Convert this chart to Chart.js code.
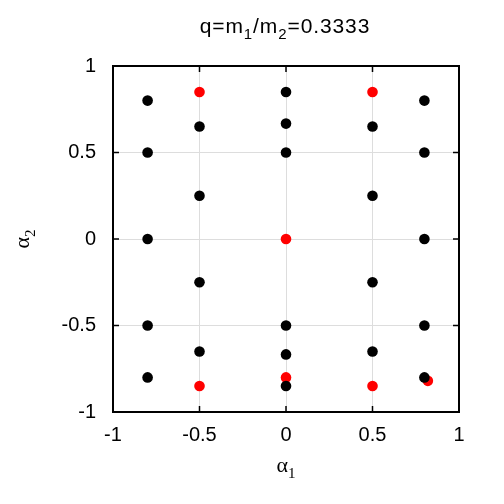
<!DOCTYPE html>
<html><head><meta charset="utf-8">
<script src="https://cdn.jsdelivr.net/npm/chart.js@4/dist/chart.umd.min.js"></script>
<style>html,body{margin:0;padding:0;background:#fff}#c{display:block}</style>
</head><body>
<canvas id="c" width="504" height="504"></canvas>
<script>
const blackX = [-0.8,-0.8,-0.8,-0.8,-0.8, -0.5,-0.5,-0.5,-0.5, 0,0,0,0,0,0, 0.5,0.5,0.5,0.5, 0.8,0.8,0.8,0.8,0.8];
const blackY = [0.8,0.5,0,-0.5,-0.8, 0.65,0.25,-0.25,-0.65, 0.85,0.667,0.5,-0.5,-0.667,-0.85, 0.65,0.25,-0.25,-0.65, 0.8,0.5,0,-0.5,-0.8];
const redX = [-0.5,0.5,0,0,-0.5,0.5,0.82];
const redY = [0.85,0.85,0,-0.8,-0.85,-0.85,-0.82];
const tickVals = [-1,-0.5,0,0.5,1];
const titleParts = [["q=m",0],["1",1],["/m",0],["2",1],["=0.3333",0]];
const xLabelParts = [["α",0],["1",1]];
const yLabelParts = [["α",0],["2",1]];

const FONT = "'Liberation Sans', Arial, sans-serif";
const SERIF = "'Liberation Serif', serif";
function fmt(v){ return String(v); }

function drawParts(ctx, parts, x, y, size, fam, subFam, spacing){
  const sub = Math.round(size*0.7);
  ctx.letterSpacing = (spacing||0)+'px';
  let w = 0;
  parts.forEach(p=>{ ctx.font = (p[1]?sub:size)+"px "+(p[1]?subFam:fam); w += ctx.measureText(p[0]).width; });
  let cx = x - w/2;
  ctx.textAlign = 'left'; ctx.textBaseline = 'alphabetic';
  parts.forEach(p=>{
    ctx.font = (p[1]?sub:size)+"px "+(p[1]?subFam:fam);
    ctx.fillText(p[0], cx, y + (p[1]? size*0.28 : 0));
    cx += ctx.measureText(p[0]).width;
  });
  ctx.letterSpacing = '0px';
}

const deco = {
  id:'deco',
  afterDraw(chart){
    const ctx = chart.ctx, a = chart.chartArea, xs = chart.scales.x, ys = chart.scales.y;
    ctx.save();
    ctx.fillStyle = '#000';
    ctx.strokeStyle = '#000'; ctx.lineWidth = 1.5;
    ctx.beginPath();
    tickVals.forEach(v=>{
      const px = xs.getPixelForValue(v), py = ys.getPixelForValue(v);
      ctx.moveTo(px, a.bottom); ctx.lineTo(px, a.bottom-6);
      ctx.moveTo(px, a.top); ctx.lineTo(px, a.top+6);
      ctx.moveTo(a.left, py); ctx.lineTo(a.left+6, py);
      ctx.moveTo(a.right, py); ctx.lineTo(a.right-6, py);
    });
    ctx.stroke();
    ctx.lineWidth = 2;
    ctx.strokeRect(a.left, a.top, a.right-a.left, a.bottom-a.top);
    const cx = (a.left+a.right)/2;
    drawParts(ctx, titleParts, cx-1, 33, 21, FONT, FONT, 0.9);
    drawParts(ctx, xLabelParts, cx, 472, 22, SERIF, SERIF, 0);
    ctx.translate(29, (a.top+a.bottom)/2);
    ctx.rotate(-Math.PI/2);
    drawParts(ctx, yLabelParts, 0, 0, 22, SERIF, SERIF, 0);
    ctx.restore();
  }
};

new Chart(document.getElementById('c'), {
  type:'scatter',
  data:{ datasets:[
    { data: blackX.map((x,i)=>({x, y:blackY[i]})), backgroundColor:'#000', borderWidth:0, pointRadius:5.3 },
    { data: redX.map((x,i)=>({x, y:redY[i]})), backgroundColor:'#ff0000', borderWidth:0, pointRadius:5.3 }
  ]},
  options:{
    responsive:false, animation:false, devicePixelRatio:1,
    layout:{ padding:{ left:0, right:45, top:66, bottom:0 } },
    plugins:{ legend:{display:false}, tooltip:{enabled:false}, title:{display:false} },
    scales:{
      x:{ type:'linear', min:-1, max:1,
        afterBuildTicks(s){ s.ticks = tickVals.map(v=>({value:v})); },
        afterFit(s){ s.height = 92; },
        grid:{ color:'#dddddd', lineWidth:1, drawTicks:false },
        border:{ display:false },
        ticks:{ padding:11, color:'#000', font:{ family:FONT, size:20 }, callback:v=>fmt(v), maxRotation:0 } },
      y:{ type:'linear', min:-1, max:1,
        afterBuildTicks(s){ s.ticks = tickVals.map(v=>({value:v})); },
        afterFit(s){ s.width = 113; },
        grid:{ color:'#dddddd', lineWidth:1, drawTicks:false },
        border:{ display:false },
        ticks:{ padding:17, color:'#000', font:{ family:FONT, size:20 }, callback:v=>fmt(v) } }
    }
  },
  plugins:[deco]
});
</script>
</body></html>
